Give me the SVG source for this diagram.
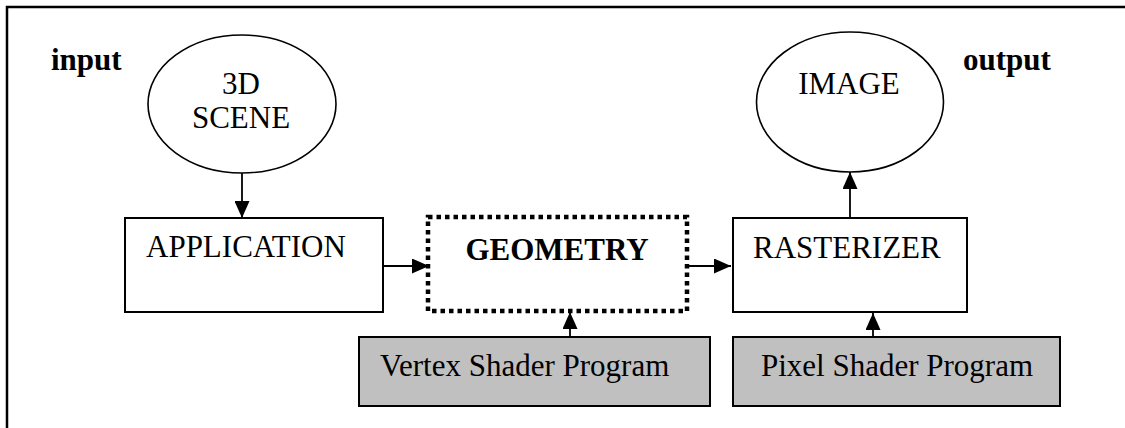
<svg xmlns="http://www.w3.org/2000/svg" width="1125" height="428" viewBox="0 0 1125 428">
<style>
.t{font-family:"Liberation Serif","Times New Roman",serif;font-size:31px;fill:#000}
.b{font-weight:bold}
.box{fill:#fff;stroke:#000;stroke-width:2}
.shader{fill:#c0c0c0;stroke:#000;stroke-width:2}
.ell{fill:#fff;stroke:#000;stroke-width:1.6}
.con{fill:none;stroke:#000;stroke-width:1.8}
</style>
<defs>
<marker id="arr" markerUnits="userSpaceOnUse" markerWidth="18" markerHeight="15" refX="17" refY="7.5" orient="auto">
<path d="M0,0 L17,7.5 L0,15 z" fill="#000"/>
</marker>
</defs>
<rect width="1125" height="428" fill="#fff"/>
<rect id="frame" x="7" y="7" width="1140" height="440" fill="none" stroke="#000" stroke-width="2.5"/>
<text class="t b" x="51" y="70">input</text>
<text class="t b" x="963" y="70">output</text>
<g id="scene">
<ellipse class="ell" cx="242" cy="104" rx="94" ry="69"/>
<text class="t" x="241" y="94" text-anchor="middle">3D</text>
<text class="t" x="241" y="128" text-anchor="middle">SCENE</text>
</g>
<g id="image">
<ellipse class="ell" cx="850" cy="102" rx="93.5" ry="70"/>
<text class="t" x="849" y="94" text-anchor="middle">IMAGE</text>
</g>
<g id="application">
<rect class="box" x="125" y="218" width="258" height="94"/>
<text class="t" x="146" y="257">APPLICATION</text>
</g>
<g id="geometry">
<rect x="428" y="217" width="259" height="94" fill="#fff" stroke="#000" stroke-width="4.5" stroke-dasharray="4.5 4"/>
<text class="t b" x="557" y="260" text-anchor="middle">GEOMETRY</text>
</g>
<g id="rasterizer">
<rect class="box" x="733" y="218" width="234" height="94"/>
<text class="t" x="753" y="258">RASTERIZER</text>
</g>
<g id="vertex">
<rect class="shader" x="359" y="337" width="351" height="69"/>
<text class="t" x="380" y="376">Vertex Shader Program</text>
</g>
<g id="pixel">
<rect class="shader" x="733" y="337" width="327" height="69"/>
<text class="t" x="761" y="376">Pixel Shader Program</text>
</g>
<g id="connectors">
<line class="con" x1="242" y1="173" x2="242" y2="218" marker-end="url(#arr)"/>
<line class="con" x1="383" y1="266" x2="429" y2="266" marker-end="url(#arr)"/>
<line class="con" x1="689" y1="266" x2="731" y2="266" marker-end="url(#arr)"/>
<line class="con" x1="850" y1="218" x2="850" y2="172" marker-end="url(#arr)"/>
<line class="con" x1="570" y1="337" x2="570" y2="312" marker-end="url(#arr)"/>
<line class="con" x1="873" y1="337" x2="873" y2="313" marker-end="url(#arr)"/>
</g>
</svg>
